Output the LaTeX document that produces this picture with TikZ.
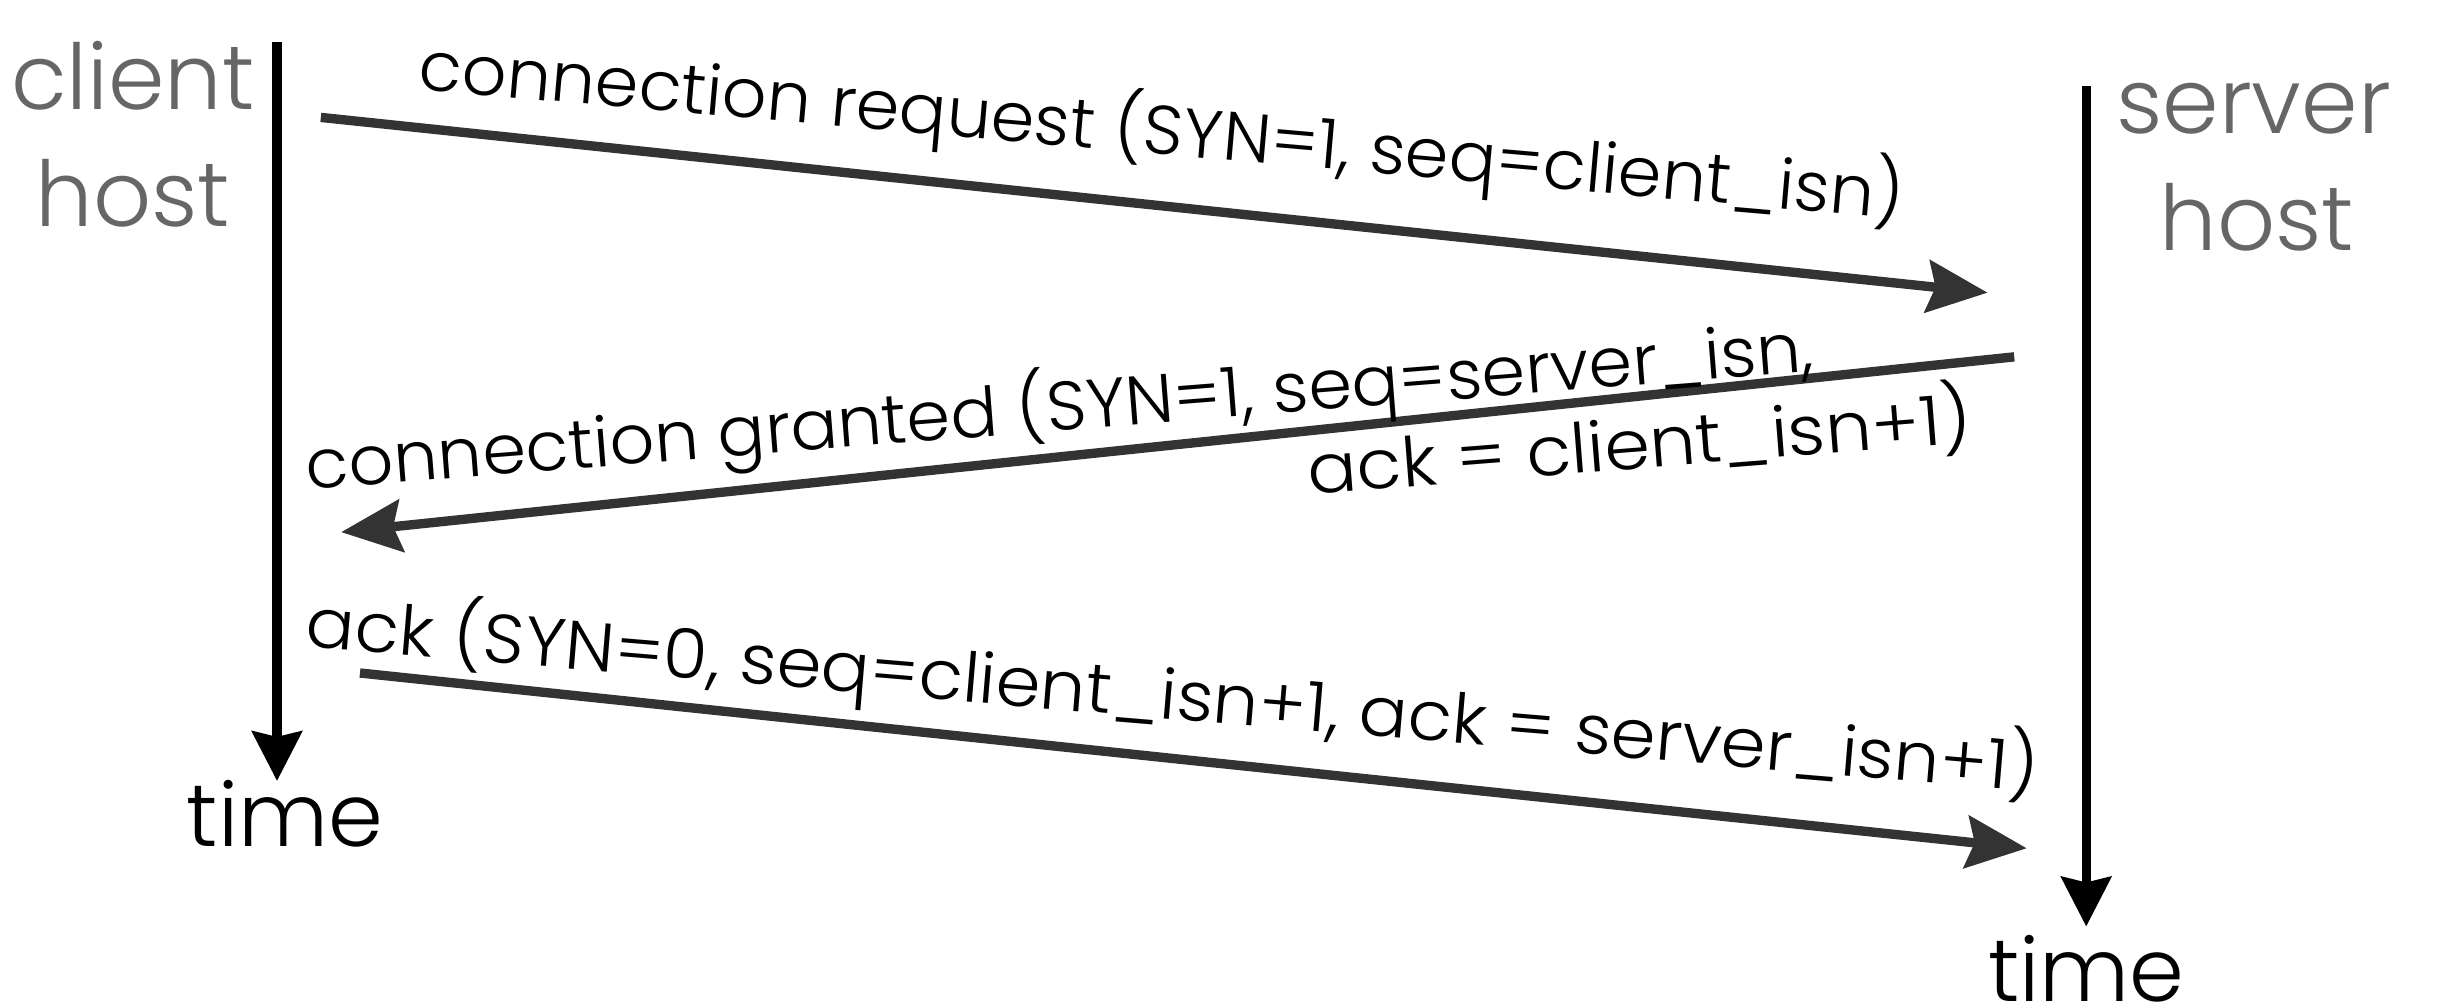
\documentclass[tikz,border=0pt]{standalone}
\usepackage{fontspec}
\setmainfont{Poppins}[UprightFont=* Light]
\usetikzlibrary{arrows.meta}
\definecolor{hostgray}{HTML}{666666}
\definecolor{msggray}{HTML}{333333}
\begin{document}
\begin{tikzpicture}[x=0.01cm,y=-0.01cm,
  hostlbl/.style={text=hostgray,font=\fontsize{16.5}{20}\selectfont,inner sep=0,anchor=base},
  timelbl/.style={font=\fontsize{16}{18}\selectfont,inner sep=0,anchor=base},
  timeline/.style={line width=1.7pt,-{Stealth[length=9pt,width=9pt,inset=1pt]}},
  msg/.style={draw=msggray,line width=1.7pt,-{Stealth[length=11pt,width=9.5pt,inset=1.5pt]}},
  msglbl/.style={font=\fontsize{12.5}{14}\selectfont,inner sep=0,anchor=base west}]
\useasboundingbox (0,0) rectangle (1568,641);
% hosts
\node[hostlbl] (client) at (85,70) {client};
\node[hostlbl] (chost) at (85,145) {host};
\node[hostlbl] (server) at (1440,85) {server};
\node[hostlbl] (shost) at (1442,160) {host};
% time labels
\node[timelbl] (ctime) at (182,541) {time};
\node[timelbl] (stime) at (1333,640) {time};
% timelines
\coordinate (ctop) at (177,27);
\coordinate (cbot) at (177,499);
\coordinate (stop) at (1333,55);
\coordinate (sbot) at (1333,592);
\draw[timeline] (ctop) -- (cbot);
\draw[timeline] (stop) -- (sbot);
% messages
\coordinate (m1s) at (205,75);
\coordinate (m1e) at (1270,187);
\coordinate (m2s) at (1287,228);
\coordinate (m2e) at (218,340);
\coordinate (m3s) at (230,430);
\coordinate (m3e) at (1295,542);
\draw[msg] (m1s) -- (m1e);
\draw[msg] (m2s) -- (m2e);
\draw[msg] (m3s) -- (m3e);
% labels
\node[msglbl,rotate=-5,xscale=1.02] (l1) at (266,57) {connection request (SYN=1, seq=client\_isn)};
\node[msglbl,rotate=4.5,xscale=1.02] (l2a) at (196,313) {connection granted (SYN=1, seq=server\_isn,};
\node[msglbl,rotate=4.5,xscale=1.065] (l2b) at (836,316) {ack = client\_isn+1)};
\node[msglbl,rotate=-4.8,xscale=1.05] (l3) at (194,413) {ack (SYN=0, seq=client\_isn+1, ack = server\_isn+1)};
\end{tikzpicture}
\end{document}
